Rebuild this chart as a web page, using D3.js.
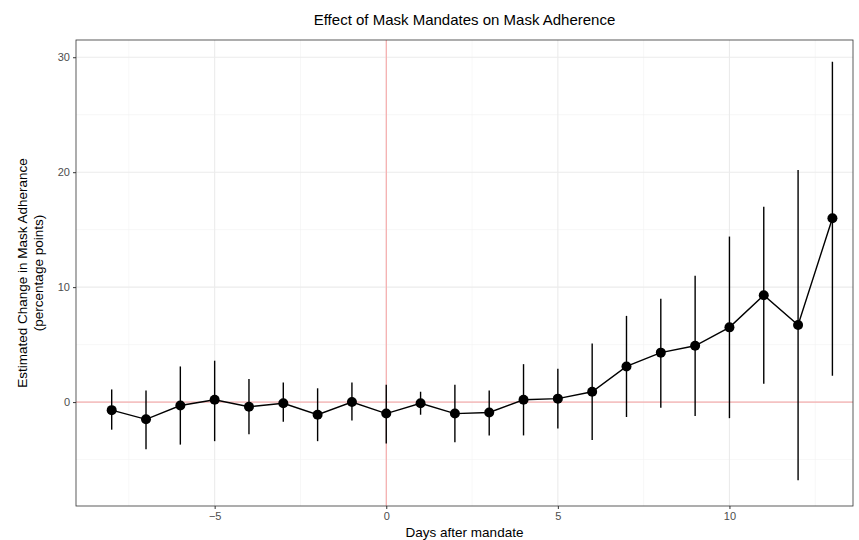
<!DOCTYPE html>
<html><head><meta charset="utf-8">
<script src="https://cdn.jsdelivr.net/npm/d3@7"></script>
<style>body{margin:0;background:#fff}text{font-family:"Liberation Sans",Arial,sans-serif}</style>
</head><body><svg id="chart" width="859" height="540"></svg>
<script>
const days = [-8,-7,-6,-5,-4,-3,-2,-1,0,1,2,3,4,5,6,7,8,9,10,11,12,13];
const estimates = [-0.7,-1.5,-0.3,0.2,-0.4,-0.1,-1.1,0.0,-1.0,-0.1,-1.0,-0.9,0.2,0.3,0.9,3.1,4.3,4.9,6.5,9.3,6.7,16.0];
const lower = [-2.4,-4.1,-3.7,-3.4,-2.8,-1.7,-3.4,-1.6,-3.6,-1.1,-3.5,-2.9,-2.9,-2.3,-3.3,-1.3,-0.5,-1.2,-1.4,1.6,-6.8,2.3];
const upper = [1.1,1.0,3.1,3.6,2.0,1.7,1.2,1.7,1.5,0.9,1.5,1.0,3.3,2.9,5.1,7.5,9.0,11.0,14.4,17.0,20.2,29.6];
const xTicks = [-5,0,5,10], xMinor = [-7.5,-2.5,2.5,7.5,12.5];
const yTicks = [0,10,20,30], yMinor = [-5,5,15,25];

const svg = d3.select("#chart");
const L = 76, R = 853, T = 40, B = 506;
const x = d3.scaleLinear().domain([-9.04, 13.6]).range([L, R]);
const y = d3.scaleLinear().domain([-9.04, 31.5]).range([B, T]);
const data = days.map((d, i) => ({ d, e: estimates[i], lo: lower[i], hi: upper[i] }));

const g = svg.append("g");
// grid
g.selectAll(".xm").data(xMinor).join("line").attr("x1", x).attr("x2", x).attr("y1", T).attr("y2", B).attr("stroke", "#f2f2f2").attr("stroke-width", 0.6);
g.selectAll(".ym").data(yMinor).join("line").attr("y1", y).attr("y2", y).attr("x1", L).attr("x2", R).attr("stroke", "#f2f2f2").attr("stroke-width", 0.6);
g.selectAll(".xg").data(xTicks).join("line").attr("x1", x).attr("x2", x).attr("y1", T).attr("y2", B).attr("stroke", "#ebebeb").attr("stroke-width", 1.1);
g.selectAll(".yg").data(yTicks).join("line").attr("y1", y).attr("y2", y).attr("x1", L).attr("x2", R).attr("stroke", "#ebebeb").attr("stroke-width", 1.1);
// reference lines
g.append("line").attr("x1", x(0)).attr("x2", x(0)).attr("y1", T).attr("y2", B).attr("stroke", "#f8a0a0");
g.append("line").attr("y1", y(0)).attr("y2", y(0)).attr("x1", L).attr("x2", R).attr("stroke", "#f8a0a0");
// error bars
g.selectAll(".eb").data(data).join("line").attr("x1", d => x(d.d)).attr("x2", d => x(d.d)).attr("y1", d => y(d.lo)).attr("y2", d => y(d.hi)).attr("stroke", "#000").attr("stroke-width", 1.4);
g.append("path").datum(data).attr("fill", "none").attr("stroke", "#000").attr("stroke-width", 1.4)
  .attr("d", d3.line().x(d => x(d.d)).y(d => y(d.e)));
g.selectAll(".pt").data(data).join("circle").attr("cx", d => x(d.d)).attr("cy", d => y(d.e)).attr("r", 5).attr("fill", "#000");
// border
g.append("rect").attr("x", L).attr("y", T).attr("width", R - L).attr("height", B - T).attr("fill", "none").attr("stroke", "#333").attr("stroke-width", 0.8);

// axes
const fmt = d => d < 0 ? "\u2212" + Math.abs(d) : d;
const xa = svg.append("g").attr("transform", `translate(0,${B})`).call(d3.axisBottom(x).tickValues(xTicks).tickSize(3).tickFormat(fmt));
const ya = svg.append("g").attr("transform", `translate(${L},0)`).call(d3.axisLeft(y).tickValues(yTicks).tickSize(3).tickFormat(fmt));
[xa, ya].forEach(a => { a.select(".domain").remove(); a.selectAll("line").attr("stroke", "#333"); a.selectAll("text").attr("fill", "#4d4d4d").style("font-size", "11px"); });

svg.append("text").attr("x", (L + R) / 2).attr("y", 25).attr("text-anchor", "middle").style("font-size", "15px").text("Effect of Mask Mandates on Mask Adherence");
svg.append("text").attr("x", (L + R) / 2).attr("y", 537).attr("text-anchor", "middle").style("font-size", "13.5px").text("Days after mandate");
const yl = svg.append("text").attr("transform", `translate(27,${(T + B) / 2}) rotate(-90)`).attr("text-anchor", "middle").style("font-size", "13.5px");
yl.append("tspan").attr("x", 0).attr("dy", 0).text("Estimated Change in Mask Adherance");
yl.append("tspan").attr("x", 0).attr("dy", 16).text("(percentage points)");
</script></body></html>
